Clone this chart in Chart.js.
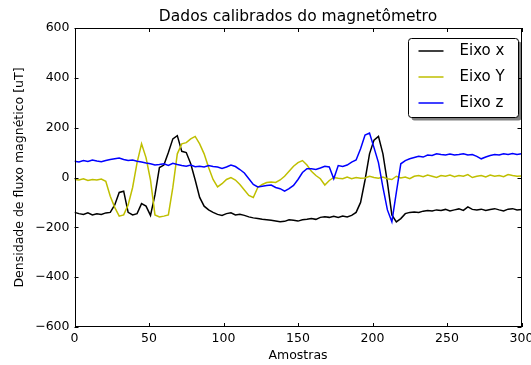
<!DOCTYPE html>
<html>
<head>
<meta charset="utf-8">
<script src="https://cdn.jsdelivr.net/npm/chart.js@4.4.1/dist/chart.umd.min.js"></script>
<style>
  html, body { margin: 0; padding: 0; background: #fff; }
  #wrap { width: 531px; height: 365px; }
</style>
</head>
<body>
<div id="wrap"><canvas id="magChart"></canvas></div>
<script>
// amostras (eixo x)
const amostras = [0, 3, 6, 9, 12, 15, 18, 21, 24, 27, 30, 33, 36, 39, 42, 45, 48, 51, 54, 57,
    60, 63, 66, 69, 72, 75, 78, 81, 84, 87, 90, 93, 96, 99, 102, 105, 108, 111, 114, 117,
    120, 123, 126, 129, 132, 135, 138, 141, 144, 147, 150, 153, 156, 159, 162, 165, 168, 171, 174, 177,
    180, 183, 186, 189, 192, 195, 198, 201, 204, 207, 210, 213, 216, 219, 222, 225, 228, 231, 234, 237,
    240, 243, 246, 249, 252, 255, 258, 261, 264, 267, 270, 273, 276, 279, 282, 285, 288, 291, 294, 297, 300];

const eixoX = [-140, -145, -148, -142, -150, -146, -148, -142, -140, -110, -60, -55, -140, -150, -145, -105, -115, -152, -70, 40,
    50, 100, 155, 168, 105, 100, 55, -10, -80, -115, -130, -140, -148, -152, -145, -142, -150, -148, -152, -158,
    -162, -165, -168, -170, -172, -175, -178, -176, -170, -172, -175, -170, -168, -165, -168, -160, -158, -160, -156, -160,
    -155, -158, -152, -140, -100, -10, 95, 150, 165, 95, -20, -150, -178, -165, -145, -140, -138, -140, -135, -132,
    -134, -130, -132, -128, -134, -130, -126, -132, -118, -128, -130, -127, -132, -128, -125, -130, -134, -127, -125, -130, -128];

const eixoY = [-8, -10, -5, -12, -8, -10, -6, -15, -75, -120, -155, -150, -110, -40, 60, 135, 80, -10, -150, -158,
    -155, -150, -40, 95, 135, 140, 155, 165, 135, 95, 40, -8, -38, -25, -8, 0, -10, -28, -50, -72,
    -80, -40, -28, -20, -18, -20, -10, 5, 25, 45, 60, 68, 50, 25, 8, -5, -30, -12, 0, -3,
    -5, 2, -5, 0, -3, -2, 5, 0, -3, 2, -5, -8, 5, -2, 2, -5, 5, 8, 3, 10,
    5, 0, 8, 5, 10, 3, 8, 5, 12, 0, 5, 8, 2, 10, 5, 8, 3, 12, 8, 5, 6];

const eixoZ = [65, 62, 68, 64, 70, 66, 63, 68, 72, 75, 78, 72, 68, 70, 65, 62, 58, 55, 50, 52,
    55, 48, 57, 52, 48, 45, 50, 43, 45, 42, 48, 44, 42, 36, 42, 50, 44, 32, 18, -5,
    -28, -38, -35, -32, -30, -40, -45, -55, -45, -32, -8, 20, 35, 35, 32, 38, 45, 42, -5, 48,
    44, 50, 62, 70, 115, 170, 178, 120, 60, -40, -130, -178, -60, 55, 68, 75, 80, 85, 82, 90,
    88, 95, 92, 90, 94, 90, 92, 95, 90, 92, 85, 75, 82, 88, 92, 90, 95, 92, 96, 92, 95];

const yTicks = [-600, -400, -200, 0, 200, 400, 600];
const nomes = ["Eixo x", "Eixo Y", "Eixo z"];
const cores = ["#000000", "#bfbf00", "#0000ff"];
const titulo = "Dados calibrados do magnetômetro";

const FONT = "'DejaVu Sans', sans-serif";

function pontos(valores) {
    return amostras.map((s, i) => ({ x: s, y: valores[i] }));
}

// titulo centrado sobre a area do grafico (como no matplotlib)
const tituloPlugin = {
    id: "tituloPlugin",
    afterDraw(chart) {
        const { ctx, chartArea: a } = chart;
        ctx.save();
        ctx.font = "15.5px " + FONT;
        ctx.fillStyle = "#000";
        ctx.textAlign = "center";
        ctx.textBaseline = "alphabetic";
        ctx.fillText(titulo, (a.left + a.right) / 2, 21);
        ctx.restore();
    },
};

// moldura com ticks para dentro
const moldura = {
    id: "moldura",
    afterDatasetsDraw(chart) {
        const { ctx, chartArea: a, scales } = chart;
        ctx.save();
        ctx.strokeStyle = "#000";
        ctx.lineWidth = 1;
        ctx.beginPath();
        scales.x.ticks.forEach((t) => {
            const px = Math.round(scales.x.getPixelForValue(t.value)) + 0.5;
            ctx.moveTo(px, a.bottom); ctx.lineTo(px, a.bottom - 4);
            ctx.moveTo(px, a.top); ctx.lineTo(px, a.top + 4);
        });
        scales.y.ticks.forEach((t) => {
            const py = Math.round(scales.y.getPixelForValue(t.value)) + 0.5;
            ctx.moveTo(a.left, py); ctx.lineTo(a.left + 4, py);
            ctx.moveTo(a.right, py); ctx.lineTo(a.right - 4, py);
        });
        ctx.stroke();
        ctx.strokeRect(Math.round(a.left) + 0.5, Math.round(a.top) + 0.5,
            Math.round(a.right - a.left) - 1, Math.round(a.bottom - a.top) - 1);
        ctx.restore();
    },
};

// legenda dentro do grafico, com sombra
const legenda = {
    id: "legenda",
    afterDraw(chart) {
        const { ctx, chartArea: a } = chart;
        const w = 110, h = 79;
        const x0 = Math.round(a.right - 4 - w) + 0.5;
        const y0 = Math.round(a.top + 10) + 0.5;
        ctx.save();
        ctx.fillStyle = "rgba(0,0,0,0.5)";
        ctx.beginPath();
        ctx.roundRect(x0 + 3, y0 + 3, w, h, 3);
        ctx.fill();
        ctx.fillStyle = "#fff";
        ctx.strokeStyle = "#000";
        ctx.lineWidth = 1;
        ctx.beginPath();
        ctx.roundRect(x0, y0, w, h, 3);
        ctx.fill();
        ctx.stroke();
        ctx.font = "15px " + FONT;
        ctx.textBaseline = "middle";
        nomes.forEach((nome, i) => {
            const yy = Math.round(y0 + 12.5 + i * 26);
            ctx.strokeStyle = cores[i];
            ctx.lineWidth = 1.5;
            ctx.beginPath();
            ctx.moveTo(x0 + 10, yy);
            ctx.lineTo(x0 + 35, yy);
            ctx.stroke();
            ctx.fillStyle = "#000";
            ctx.fillText(nome, x0 + 51, yy);
        });
        ctx.restore();
    },
};

const ctx = document.getElementById("magChart").getContext("2d");
new Chart(ctx, {
    type: "line",
    data: {
        datasets: [
            { label: nomes[0], data: pontos(eixoX), borderColor: cores[0], order: 2 },
            { label: nomes[1], data: pontos(eixoY), borderColor: cores[1], order: 1 },
            { label: nomes[2], data: pontos(eixoZ), borderColor: cores[2], order: 0 },
        ],
    },
    options: {
        responsive: true,
        maintainAspectRatio: false,
        animation: false,
        devicePixelRatio: 1,
        layout: { padding: { left: 0, right: 9.5, top: 28, bottom: 0 } },
        elements: {
            line: { borderWidth: 1.5, tension: 0, fill: false },
            point: { radius: 0 },
        },
        plugins: {
            legend: { display: false },
            tooltip: { enabled: false },
            title: { display: false },
        },
        scales: {
            x: {
                type: "linear",
                min: 0,
                max: 300,
                grid: { display: false, drawTicks: false },
                border: { display: false },
                ticks: {
                    stepSize: 50,
                    color: "#000",
                    padding: 4,
                    maxRotation: 0,
                    font: { family: FONT, size: 12.5 },
                },
                title: {
                    display: true,
                    text: "Amostras",
                    color: "#000",
                    font: { family: FONT, size: 12.5 },
                    padding: { top: 0, bottom: 1.5 },
                },
                afterFit(scale) {
                    scale.height = 38;
                    scale.paddingLeft = 0;
                    scale.paddingRight = 0;
                },
            },
            y: {
                min: -600,
                max: 600,
                grid: { display: false, drawTicks: false },
                border: { display: false },
                afterBuildTicks(scale) { scale.ticks = yTicks.map((v) => ({ value: v })); },
                ticks: {
                    color: "#000",
                    padding: 5,
                    font: { family: FONT, size: 12.5 },
                    callback: (v) => String(v).replace("-", "\u2212"),
                },
                title: {
                    display: true,
                    text: "Densidade de fluxo magnético [uT]",
                    color: "#000",
                    font: { family: FONT, size: 12.5 },
                    padding: { top: 12.5, bottom: 0 },
                },
                afterFit(scale) {
                    scale.width = 74.5;
                    scale.paddingTop = 0;
                    scale.paddingBottom = 0;
                },
            },
        },
    },
    plugins: [moldura, legenda, tituloPlugin],
});
</script>
</body>
</html>
